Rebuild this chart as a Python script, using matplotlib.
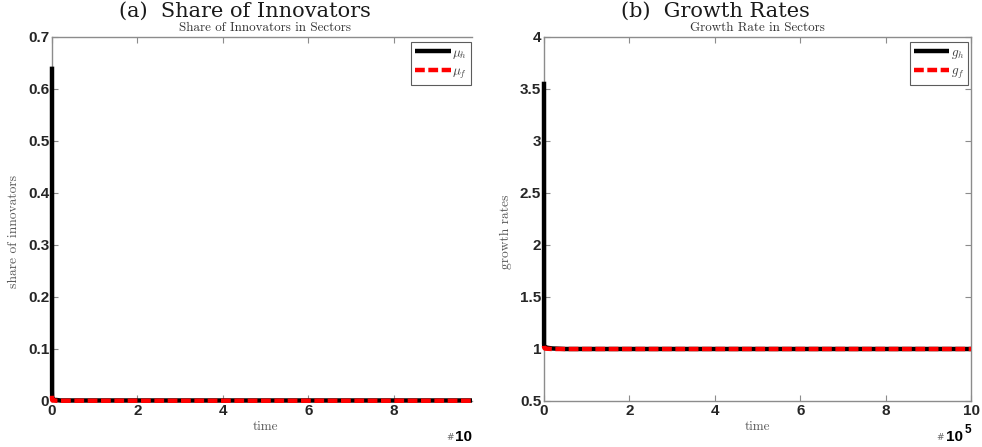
import matplotlib
matplotlib.use("Agg")
import matplotlib.pyplot as plt
from matplotlib.patches import Rectangle
from matplotlib.transforms import Bbox

plt.rcParams['mathtext.fontset'] = 'cm'

# time in units of 1e5
time = [0.0, 0.002, 0.005, 0.01, 0.02, 0.05, 0.1, 0.2, 0.5, 1, 2, 3, 4, 5, 6, 7, 8, 9, 10]
mu_h = [0.643, 0.02, 0.008, 0.004, 0.003, 0.002, 0.002, 0.001, 0.001, 0.001, 0.001, 0.001, 0.001,
        0.001, 0.001, 0.001, 0.001, 0.001, 0.001]
mu_f = [0.010, 0.004, 0.002, 0.001, 0.001, 0.001, 0.0005, 0.0005, 0.0005, 0.0005, 0.0005, 0.0005,
        0.0005, 0.0005, 0.0005, 0.0005, 0.0005, 0.0005, 0.0005]
g_h = [3.57, 1.05, 1.03, 1.025, 1.02, 1.015, 1.01, 1.005, 1.0, 1.0, 1.0, 1.0, 1.0, 1.0, 1.0, 1.0,
       1.0, 1.0, 1.0]
g_f = [1.03, 1.02, 1.015, 1.01, 1.005, 1.003, 1.002, 1.0, 1.0, 1.0, 1.0, 1.0, 1.0, 1.0, 1.0, 1.0,
       1.0, 1.0, 1.0]

xticks = [0, 2, 4, 6, 8, 10]
yticks_a = [0, 0.1, 0.2, 0.3, 0.4, 0.5, 0.6, 0.7]
yticklabels_a = ['0', '0.1', '0.2', '0.3', '0.4', '0.5', '0.6', '0.7']
yticks_b = [0.5, 1, 1.5, 2, 2.5, 3, 3.5, 4]
yticklabels_b = ['0.5', '1', '1.5', '2', '2.5', '3', '3.5', '4']

W, H = 982, 447
fig = plt.figure(figsize=(W / 100, H / 100), dpi=100)

spine_col = '#8c8c8c'
lab_col = '#5a5a5a'
cm = 'cmr10'


def style(ax, right_spine=True):
    for s in ax.spines.values():
        s.set_color(spine_col)
        s.set_linewidth(1.0)
    if not right_spine:
        ax.spines['right'].set_visible(False)
    ax.tick_params(direction='in', length=4, width=0.8, color=spine_col,
                   top=True, right=right_spine, pad=2, labelcolor='#262626')
    for lab in ax.get_xticklabels() + ax.get_yticklabels():
        lab.set_fontfamily('Liberation Sans')
        lab.set_fontweight('bold')
        lab.set_fontsize(11)


def px(x0, y0, w, h):
    return [x0 / W, 1 - (y0 + h) / H, w / W, h / H]


def loose_clip(ax, lines):
    # let thick lines show fully along the left and bottom spines
    r = Rectangle((-0.02, -0.02), 1.02, 1.04, transform=ax.transAxes, facecolor='none')
    for ln in lines:
        ln.set_clip_path(r)
        ln.set_zorder(3)


def make_legend(ax, anchor):
    leg = ax.legend(loc='upper right', bbox_to_anchor=anchor, frameon=True, fancybox=False,
                    edgecolor='#333333', handlelength=2.7, handletextpad=0.1, borderpad=0.3,
                    labelspacing=0.3, borderaxespad=0, prop=dict(size=9.5))
    leg.get_frame().set_linewidth(0.8)
    leg.set_zorder(5)
    for t in leg.get_texts():
        t.set_color('#444444')
    return leg


# ---------- panel (a) ----------
ax1 = fig.add_axes(px(52, 37, 420, 364))
l1, = ax1.plot(time, mu_h, color='black', lw=3.2, solid_capstyle='butt', label=r'$\mu_h$')
l2, = ax1.plot(time, mu_f, color='red', lw=3.2, ls=(0, (2.2, 0.8)), label=r'$\mu_f$')
loose_clip(ax1, [l1, l2])
ax1.set_xlim(0, 9.835)
ax1.set_ylim(0, 0.7)
ax1.set_xticks(xticks[:-1])
ax1.set_yticks(yticks_a)
ax1.set_yticklabels(yticklabels_a)
style(ax1, right_spine=False)
t1 = ax1.set_title('Share of Innovators in Sectors', fontfamily=cm, fontsize=9.4, color='#333333', pad=4)
t1.set_x((265 - 52) / 420)
ax1.set_xlabel('time', fontfamily=cm, fontsize=9.5, color=lab_col, labelpad=2)
ax1.xaxis.label.set_x((265 - 52) / 420)
ax1.set_ylabel('share of innovators', fontfamily=cm, fontsize=9.7, color=lab_col, labelpad=6)
ax1.yaxis.label.set_y(0.465)
make_legend(ax1, (0.998, 0.986))

# ---------- panel (b) ----------
ax2 = fig.add_axes(px(544, 37, 427, 364))
l3, = ax2.plot(time, g_h, color='black', lw=3.2, solid_capstyle='butt', label=r'$g_h$')
l4, = ax2.plot(time, g_f, color='red', lw=3.2, ls=(0, (2.2, 0.8)), label=r'$g_f$')
loose_clip(ax2, [l3, l4])
ax2.set_xlim(0, 10)
ax2.set_ylim(0.5, 4)
ax2.set_xticks(xticks)
ax2.set_yticks(yticks_b)
ax2.set_yticklabels(yticklabels_b)
style(ax2)
ax2.set_title('Growth Rate in Sectors', fontfamily=cm, fontsize=9.4, color='#333333', pad=4)
ax2.set_xlabel('time', fontfamily=cm, fontsize=9.5, color=lab_col, labelpad=2)
ax2.set_ylabel('growth rates', fontfamily=cm, fontsize=9.7, color=lab_col, labelpad=6)
ax2.yaxis.label.set_y(0.465)
make_legend(ax2, (0.993, 0.986))

# exponent labels
bold = dict(fontfamily='Liberation Sans', fontweight='bold')
fig.text(450 / W, 1 - 438 / H, '#', fontsize=6.5, color='#666666', ha='center', va='center',
         fontfamily='DejaVu Sans')
fig.text(455 / W, 1 - 437 / H, '10', fontsize=11, ha='left', va='center', **bold)
fig.text(940 / W, 1 - 438 / H, '#', fontsize=6.5, color='#666666', ha='center', va='center',
         fontfamily='DejaVu Sans')
fig.text(946 / W, 1 - 437 / H, '10', fontsize=11, ha='left', va='center', **bold)
fig.text(965 / W, 1 - 430 / H, '5', fontsize=8.5, ha='left', va='center', **bold)

# panel captions (bottom edge cut off as in the source)
clip = Bbox.from_extents(0, H - 20.5, W, H)
for xc, txt in [(245, '(a)  Share of Innovators'), (715, '(b)  Growth Rates')]:
    ct = fig.text(xc / W, 1 - 17 / H, txt, fontsize=15, ha='center', va='baseline',
                  fontfamily='DejaVu Serif', color='#1a1a1a')
    ct.set_clip_on(True)
    ct.set_clip_box(clip)

fig.savefig('out.png', dpi=100, facecolor='white')
